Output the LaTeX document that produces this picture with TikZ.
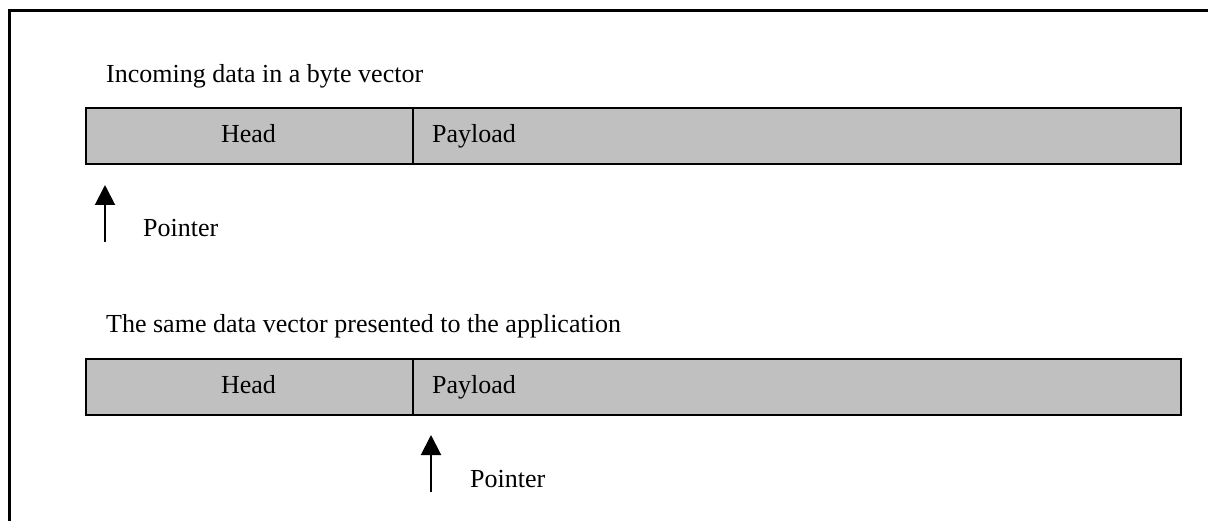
\documentclass[tikz,border=0pt]{standalone}
\usepackage{fontspec}
\setmainfont{Liberation Serif}
\usetikzlibrary{arrows.meta}
\begin{document}
\begin{tikzpicture}[x=1pt,y=-1pt,
  lbl/.style={font=\fontsize{26}{30}\selectfont, inner sep=0pt, anchor=base west},
  mid/.style={lbl, anchor=base},
  cell/.style={draw=black, line width=2pt, fill=barfill, minimum height=56pt, inner sep=0pt, anchor=north west},
  ptr/.style={line width=2pt, -{Triangle[length=20pt,width=20pt]}},
  shade/.style={fill=gray!70, draw=none}]
\definecolor{barfill}{RGB}{192,192,192}
\useasboundingbox (0,0) rectangle (1208,521);
% outer frame (top and left edges)
\draw[line width=3pt] (9,521) -- (9,11) -- (1208,11);

% ---- incoming vector ----
\node[lbl] (t1) at (106,83) {Incoming data in a byte vector};
\fill[shade] (87,109) rectangle (1182,165);
\node[cell, minimum width=327pt] (h1) at (85,107) {};
\node[cell, minimum width=768pt] (p1) at (412,107) {};
\node[mid] (h1t) at (248.5,143) {Head};
\node[lbl] (p1t) at (432,143) {Payload};
\coordinate (a1s) at (105,242);
\coordinate (a1e) at (105,185);
\draw[ptr] (a1s) -- (a1e);
\node[lbl] (ptr1) at (143,237) {Pointer};

% ---- vector presented to the application ----
\node[lbl] (t2) at (106,333) {The same data vector presented to the application};
\fill[shade] (87,360) rectangle (1182,416);
\node[cell, minimum width=327pt] (h2) at (85,358) {};
\node[cell, minimum width=768pt] (p2) at (412,358) {};
\node[mid] (h2t) at (248.5,394) {Head};
\node[lbl] (p2t) at (432,394) {Payload};
\coordinate (a2s) at (431,492);
\coordinate (a2e) at (431,435);
\draw[ptr] (a2s) -- (a2e);
\node[lbl] (ptr2) at (470,487) {Pointer};
\end{tikzpicture}
\end{document}
